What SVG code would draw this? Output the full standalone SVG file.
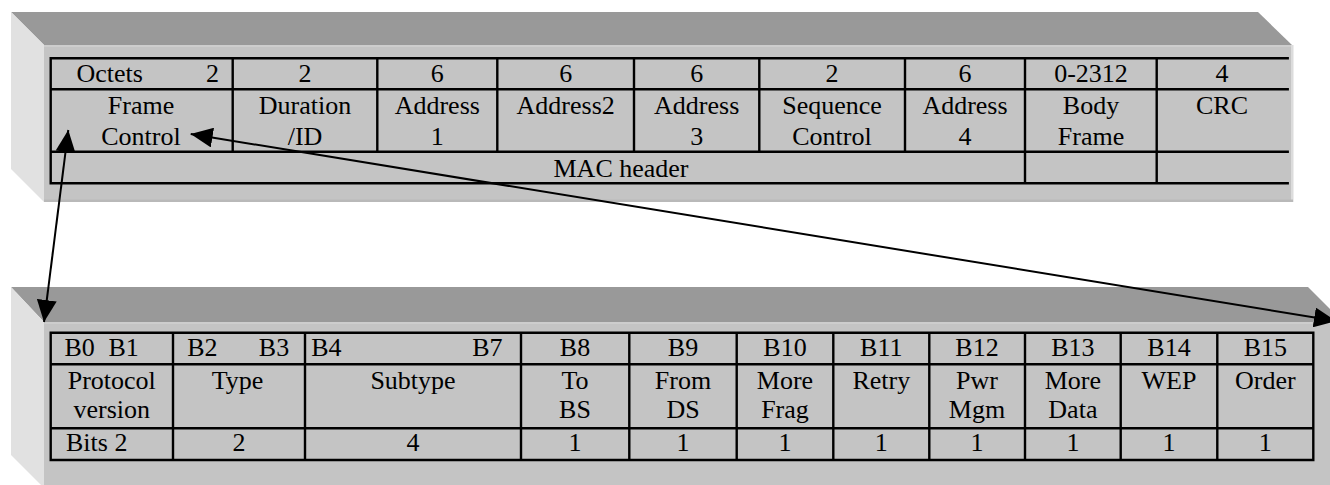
<svg xmlns="http://www.w3.org/2000/svg" width="1330" height="485" viewBox="0 0 1330 485">
  <style>
    .band { fill: #999999; }
    .side { fill: #e1e1e1; }
    .face { fill: #c4c4c4; }
    .lip { fill: #cdcdcd; }
    .foot { fill: #b9b9b9; }
    .edge { fill: #dcdcdc; }
    .grid { stroke: #000; stroke-width: 2.4; fill: none; stroke-linecap: square; }
    text { font-family: "Liberation Serif", "Times New Roman", serif; font-size: 26px; fill: #000; }
    .c { text-anchor: middle; }
    .e { text-anchor: end; }
    .arrow { stroke: #000; stroke-width: 2; fill: none; marker-start: url(#head); marker-end: url(#head); }
  </style>
  <defs>
    <marker id="head" viewBox="0 0 22 20" refX="22" refY="10" markerWidth="22" markerHeight="20" markerUnits="userSpaceOnUse" orient="auto-start-reverse">
      <path d="M0,0 L22,10 L0,20 z" fill="#000"/>
    </marker>
  </defs>

  <rect width="1330" height="485" fill="#ffffff"/>

  <!-- MAC frame panel -->
  <g id="mac-frame">
    <polygon class="face" points="44,45 1291,45 1291,202 44,202"/>
    <rect class="edge" x="1291" y="45" width="2.5" height="157"/>
    <rect class="foot" x="44" y="199.5" width="1249" height="2.5"/>
    <rect class="lip" x="44" y="45" width="1247" height="2"/>
    <polygon class="band" points="11,12 1258,12 1292,45 44,45"/>
    <polygon class="side" points="11,12 44,45 44,202 11,169"/>

    <!-- frame field grid -->
    <path class="grid" d="M50.7,58.3 H1287.7 M50.7,89.3 H1287.7 M50.7,151.7 H1287.7 M50.7,183.3 H1287.7
      M50.7,58.3 V183.3 M232.7,58.3 V151.7 M377.3,58.3 V151.7 M497.3,58.3 V151.7 M634,58.3 V151.7
      M759.3,58.3 V151.7 M905,58.3 V151.7 M1025,58.3 V183.3 M1156.7,58.3 V183.3"/>

    <g id="f-frame-control">
      <text x="76.5" y="82">Octets</text>
      <text class="e" x="219" y="82">2</text>
      <text class="c" x="141" y="114.3">Frame</text>
      <text class="c" x="141" y="145">Control</text>
    </g>
    <g id="f-duration">
      <text class="c" x="305" y="82">2</text>
      <text class="c" x="305" y="114.3">Duration</text>
      <text class="c" x="305" y="145">/ID</text>
    </g>
    <g id="f-address1">
      <text class="c" x="437.3" y="82">6</text>
      <text class="c" x="437.3" y="114.3">Address</text>
      <text class="c" x="437.3" y="145">1</text>
    </g>
    <g id="f-address2">
      <text class="c" x="565.7" y="82">6</text>
      <text class="c" x="565.7" y="114.3">Address2</text>
    </g>
    <g id="f-address3">
      <text class="c" x="696.7" y="82">6</text>
      <text class="c" x="696.7" y="114.3">Address</text>
      <text class="c" x="696.7" y="145">3</text>
    </g>
    <g id="f-sequence">
      <text class="c" x="832" y="82">2</text>
      <text class="c" x="832" y="114.3">Sequence</text>
      <text class="c" x="832" y="145">Control</text>
    </g>
    <g id="f-address4">
      <text class="c" x="965" y="82">6</text>
      <text class="c" x="965" y="114.3">Address</text>
      <text class="c" x="965" y="145">4</text>
    </g>
    <g id="f-body">
      <text class="c" x="1091" y="82">0-2312</text>
      <text class="c" x="1091" y="114.3">Body</text>
      <text class="c" x="1091" y="145">Frame</text>
    </g>
    <g id="f-crc">
      <text class="c" x="1222" y="82">4</text>
      <text class="c" x="1222" y="114.3">CRC</text>
    </g>
    <g id="f-mac-header">
      <text class="c" x="621" y="176.7">MAC header</text>
    </g>
  </g>

  <!-- Frame Control bit-field panel -->
  <g id="frame-control-bits">
    <polygon class="face" points="44,322 1330,322 1330,485 44,485"/>
    <rect class="lip" x="44" y="322" width="1286" height="2"/>
    <polygon class="band" points="11,287 1308,287 1343,322 44,322"/>
    <polygon class="side" points="11,287 44,322 44,488 11,455"/>

    <path class="grid" d="M50.7,332.7 H1313.3 M50.7,364.3 H1313.3 M50.7,428.3 H1313.3 M50.7,460 H1313.3
      M50.7,332.7 V460 M173,332.7 V460 M305,332.7 V460 M521,332.7 V460 M629.3,332.7 V460
      M736.7,332.7 V460 M833.3,332.7 V460 M929.3,332.7 V460 M1025,332.7 V460 M1120.7,332.7 V460
      M1217.3,332.7 V460 M1313.3,332.7 V460"/>

    <g id="b-protocol">
      <text x="64.5" y="356">B0</text>
      <text x="108.5" y="356">B1</text>
      <text class="c" x="111.8" y="389.3">Protocol</text>
      <text class="c" x="111.8" y="418.3">version</text>
      <text x="66" y="450.7">Bits 2</text>
    </g>
    <g id="b-type">
      <text x="187.2" y="356">B2</text>
      <text x="258.8" y="356">B3</text>
      <text class="c" x="237.5" y="389.3">Type</text>
      <text class="c" x="239" y="450.7">2</text>
    </g>
    <g id="b-subtype">
      <text x="311.2" y="356">B4</text>
      <text x="472.2" y="356">B7</text>
      <text class="c" x="413" y="389.3">Subtype</text>
      <text class="c" x="413" y="450.7">4</text>
    </g>
    <g id="b-to-ds">
      <text class="c" x="575" y="356">B8</text>
      <text class="c" x="575" y="389.3">To</text>
      <text class="c" x="575" y="418.3">BS</text>
      <text class="c" x="575" y="450.7">1</text>
    </g>
    <g id="b-from-ds">
      <text class="c" x="683" y="356">B9</text>
      <text class="c" x="683" y="389.3">From</text>
      <text class="c" x="683" y="418.3">DS</text>
      <text class="c" x="683" y="450.7">1</text>
    </g>
    <g id="b-more-frag">
      <text class="c" x="785" y="356">B10</text>
      <text class="c" x="785" y="389.3">More</text>
      <text class="c" x="785" y="418.3">Frag</text>
      <text class="c" x="785" y="450.7">1</text>
    </g>
    <g id="b-retry">
      <text class="c" x="881.3" y="356">B11</text>
      <text class="c" x="881.3" y="389.3">Retry</text>
      <text class="c" x="881.3" y="450.7">1</text>
    </g>
    <g id="b-pwr-mgm">
      <text class="c" x="977" y="356">B12</text>
      <text class="c" x="977" y="389.3">Pwr</text>
      <text class="c" x="977" y="418.3">Mgm</text>
      <text class="c" x="977" y="450.7">1</text>
    </g>
    <g id="b-more-data">
      <text class="c" x="1072.9" y="356">B13</text>
      <text class="c" x="1072.9" y="389.3">More</text>
      <text class="c" x="1072.9" y="418.3">Data</text>
      <text class="c" x="1072.9" y="450.7">1</text>
    </g>
    <g id="b-wep">
      <text class="c" x="1169" y="356">B14</text>
      <text class="c" x="1169" y="389.3">WEP</text>
      <text class="c" x="1169" y="450.7">1</text>
    </g>
    <g id="b-order">
      <text class="c" x="1265.3" y="356">B15</text>
      <text class="c" x="1265.3" y="389.3">Order</text>
      <text class="c" x="1265.3" y="450.7">1</text>
    </g>
  </g>

  <!-- connectors: Frame Control field expanded into its bit layout -->
  <g id="connectors">
    <line class="arrow" x1="68.3" y1="130" x2="44" y2="322"/>
    <line class="arrow" x1="190.7" y1="134" x2="1336" y2="321"/>
  </g>
</svg>
